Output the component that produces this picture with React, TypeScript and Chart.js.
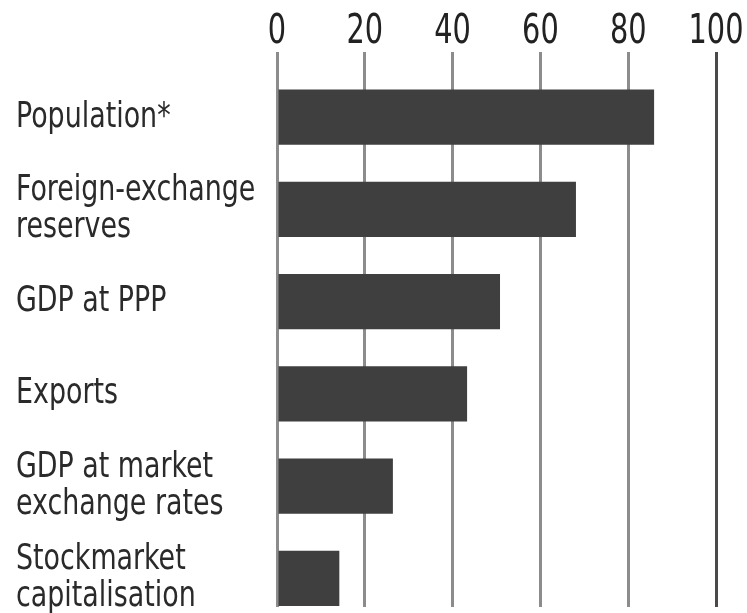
import React, { useEffect, useRef } from 'react';
import { Chart, registerables } from 'chart.js';

Chart.register(...registerables);

const categories: string[][] = [
  ['Population*'],
  ['Foreign-exchange', 'reserves'],
  ['GDP at PPP'],
  ['Exports'],
  ['GDP at market', 'exchange rates'],
  ['Stockmarket', 'capitalisation'],
];
const values: number[] = [85.9, 68.1, 50.8, 43.3, 26.4, 14.2];
const xTickValues: number[] = [0, 20, 40, 60, 80, 100];

const FONT = '"DejaVu Sans Condensed", "Liberation Sans Narrow", "Liberation Sans", sans-serif';

const Y_MIN = -0.49;
const Y_MAX = 5.31;

// Draw a scale's tick labels with a horizontal squeeze (narrow typeface look).
function squeezeLabels(scale: any, sx: number) {
  scale.drawLabels = function () {
    const ctx = this.ctx;
    const items = this.getLabelItems();
    for (const item of items) {
      const { font, label, options } = item;
      const lines = Array.isArray(label) ? label : [label];
      const [tx, ty] = options.translation;
      ctx.save();
      ctx.translate(tx, ty);
      if (options.rotation) ctx.rotate(options.rotation);
      ctx.scale(sx, 1);
      ctx.font = font.string;
      ctx.fillStyle = options.color;
      ctx.textAlign = options.textAlign;
      ctx.textBaseline = options.textBaseline;
      let y = item.textOffset;
      for (const line of lines) {
        ctx.fillText(String(line), 0, y);
        y += font.lineHeight;
      }
      ctx.restore();
    }
  };
}

export default function App() {
  const ref = useRef<HTMLCanvasElement | null>(null);

  useEffect(() => {
    if (!ref.current) return;
    const chart = new Chart(ref.current, {
      type: 'bar',
      data: {
        datasets: [
          {
            data: values.map((v, i) => ({ x: v, y: i })),
            backgroundColor: '#3f3f3f',
            borderWidth: 0,
            barPercentage: 0.6,
            categoryPercentage: 1,
          },
        ],
      },
      options: {
        indexAxis: 'y',
        responsive: false,
        animation: false,
        layout: { padding: { left: 16, right: 31, top: 0, bottom: 6 } },
        plugins: { legend: { display: false }, tooltip: { enabled: false } },
        scales: {
          x: {
            type: 'linear',
            position: 'top',
            min: 0,
            max: 100,
            afterBuildTicks: (scale: any) => {
              scale.ticks = xTickValues.map((v) => ({ value: v }));
            },
            afterFit: (scale: any) => {
              scale.height = 72;
              scale.paddingLeft = 0;
              scale.paddingRight = 0;
              squeezeLabels(scale, 0.8);
            },
            ticks: {
              padding: -5,
              color: '#222',
              font: { family: FONT, size: 40, lineHeight: 1.2 },
              maxRotation: 0,
            },
            grid: {
              drawTicks: true,
              tickLength: 20,
              lineWidth: 3,
              color: (ctx: any) => (ctx.tick && ctx.tick.value === 100 ? '#4a4a4a' : '#8c8c8c'),
            },
            border: { display: false },
          },
          y: {
            type: 'linear',
            reverse: true,
            offset: false,
            min: Y_MIN,
            max: Y_MAX,
            afterBuildTicks: (scale: any) => {
              scale.ticks = categories.map((_, i) => ({ value: i }));
              scale.min = Y_MIN;
              scale.max = Y_MAX;
            },
            afterFit: (scale: any) => {
              scale.width = 261;
              scale.paddingTop = 0;
              scale.paddingBottom = 0;
              squeezeLabels(scale, 0.83);
            },
            ticks: {
              crossAlign: 'far',
              color: '#2a2a2a',
              font: { family: FONT, size: 36, lineHeight: 1.03 },
              callback: (value: any) => categories[value as number] ?? '',
            },
            grid: { display: false, offset: false },
            border: { display: false },
          },
        },
      },
    } as any);
    return () => chart.destroy();
  }, []);

  return (
    <div style={{ position: 'fixed', left: 0, top: 0, width: 747, height: 613, background: '#fff' }}>
      <canvas ref={ref} width={747} height={613} style={{ display: 'block' }} />
    </div>
  );
}
